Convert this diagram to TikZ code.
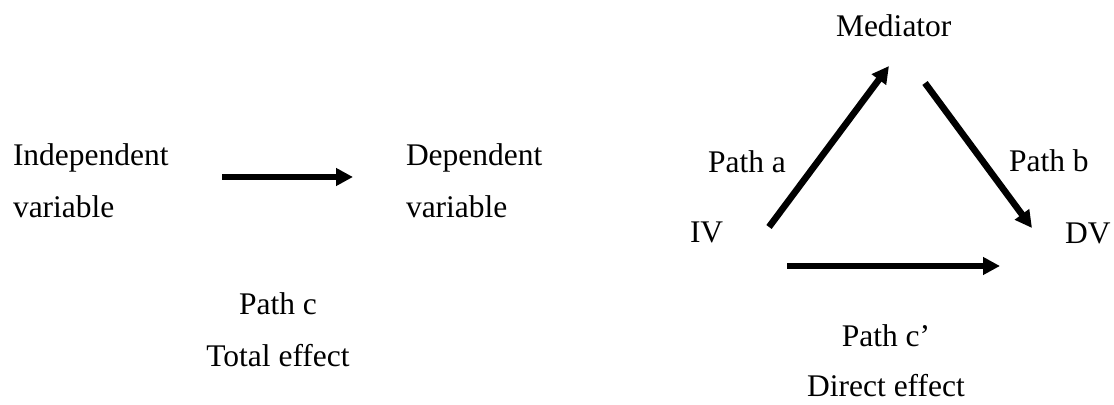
\documentclass[tikz,border=0pt]{standalone}
\usepackage{fontspec}
\setmainfont{Liberation Serif}
\usetikzlibrary{arrows.meta}

\begin{document}
\begin{tikzpicture}[x=0.5pt, y=-0.5pt,
    lbl/.style={inner sep=0pt, outer sep=0pt,
      font=\fontsize{15.75}{26}\selectfont},
    lblL/.style={lbl, align=left, anchor=base west},
    lblC/.style={lbl, align=center, anchor=base},
    path arrow/.style={line width=3.3pt,
      -{Triangle[length=8.5pt, width=8.5pt]}}]
  \useasboundingbox (0,0) rectangle (1114,405);

  % simple model: total effect (two-line labels are placed by their last baseline)
  \node[lblL] (iv1) at (13,218) {Independent\\variable};
  \node[lblL] (dv1) at (406,218) {Dependent\\variable};
  \node[lblC] (pc) at (278,367) {Path c\\Total effect};
  \coordinate (c1s) at (222,177);
  \coordinate (c1e) at (353,177);
  \draw[path arrow] (c1s) -- (c1e);

  % mediation model
  \node[lblL] (med) at (836,37) {Mediator};
  \node[lblL] (iv2) at (690,243) {IV};
  \node[lblL] (dv2) at (1065,244) {DV};
  \node[lblL] (pa) at (708,173) {Path a};
  \node[lblL] (pb) at (1009,172) {Path b};
  \node[lblC, font=\fontsize{15.75}{25}\selectfont] (pcp) at (886,397) {Path c’\\Direct effect};

  \coordinate (as) at (769,227);
  \coordinate (ae) at (889,66);
  \coordinate (bs) at (925,83);
  \coordinate (be) at (1032,228);
  \coordinate (cs) at (787,266);
  \coordinate (ce) at (1000,266);
  \draw[path arrow] (as) -- (ae);
  \draw[path arrow] (bs) -- (be);
  \draw[path arrow] (cs) -- (ce);
\end{tikzpicture}
\end{document}
